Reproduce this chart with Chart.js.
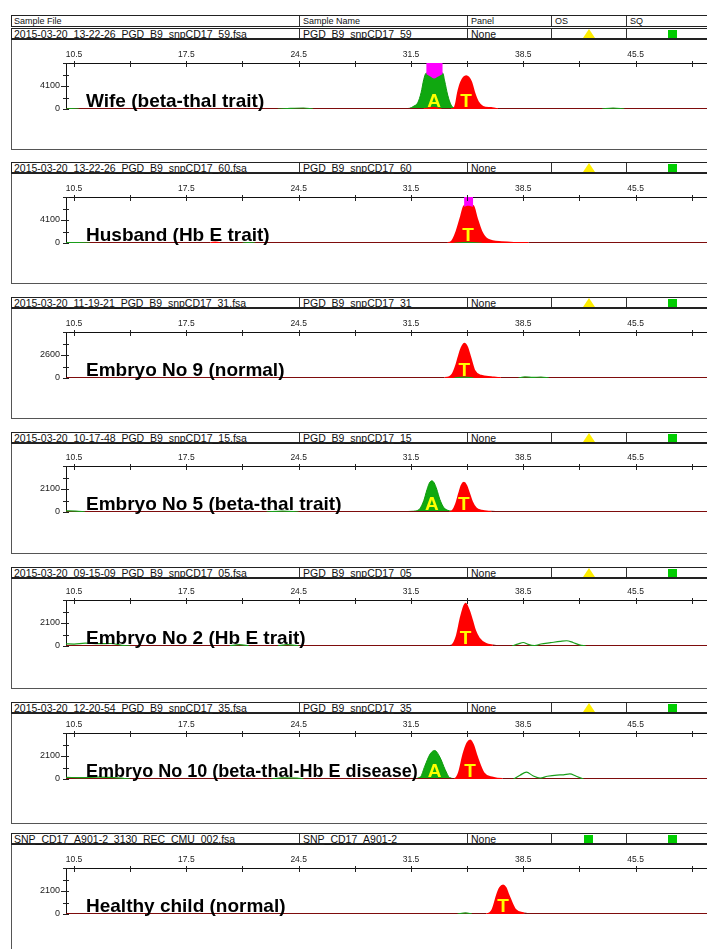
<!DOCTYPE html>
<html>
<head>
<meta charset="utf-8">
<title>CD17 SNaPshot</title>
<script src="https://cdn.jsdelivr.net/npm/chart.js@4.4.1/dist/chart.umd.min.js"></script>
<style>
  html, body { margin: 0; padding: 0; background: #fff; }
  body { position: relative; width: 707px; height: 949px; overflow: hidden; font-family: "Liberation Sans", Arial, sans-serif; color: #111; }
  .row { position: absolute; left: 11px; width: 760px; height: 12px; box-sizing: border-box; border: 1px solid #222; }
  .row.data { border-bottom-width: 2px; }
  .cell { position: absolute; top: 0; bottom: 0; padding-left: 3px; white-space: nowrap; }
  .cell.sep { border-left: 1px solid #333; }
  .head .cell { font-size: 9px; line-height: 11px; }
  .data .cell { font-size: 10.5px; line-height: 10px; }
  .box { position: absolute; left: 11px; width: 760px; height: 110px; box-sizing: border-box; border: 1px solid #555; border-top: none; }
  canvas { position: absolute; left: 12px; }
  .tri { position: absolute; top: 0; width: 12px; height: 9px; background: #ffee00; clip-path: polygon(50% 0, 100% 100%, 0 100%); }
  .sq { position: absolute; top: 1px; width: 9px; height: 8px; background: #00cc00; }
</style>
</head>
<body>
<script>
// ---- data ----
const headers = ['Sample File', 'Sample Name', 'Panel', 'OS', 'SQ'];
const sampleFiles = [
  '2015-03-20_13-22-26_PGD_B9_snpCD17_59.fsa',
  '2015-03-20_13-22-26_PGD_B9_snpCD17_60.fsa',
  '2015-03-20_11-19-21_PGD_B9_snpCD17_31.fsa',
  '2015-03-20_10-17-48_PGD_B9_snpCD17_15.fsa',
  '2015-03-20_09-15-09_PGD_B9_snpCD17_05.fsa',
  '2015-03-20_12-20-54_PGD_B9_snpCD17_35.fsa',
  'SNP_CD17_A901-2_3130_REC_CMU_002.fsa'
];
const sampleNames = ['PGD_B9_snpCD17_59', 'PGD_B9_snpCD17_60', 'PGD_B9_snpCD17_31', 'PGD_B9_snpCD17_15',
  'PGD_B9_snpCD17_05', 'PGD_B9_snpCD17_35', 'SNP_CD17_A901-2'];
const panelCol = ['None', 'None', 'None', 'None', 'None', 'None', 'None'];
const osFlag = ['tri', 'tri', 'tri', 'tri', 'tri', 'tri', 'sq'];
const sqFlag = ['sq', 'sq', 'sq', 'sq', 'sq', 'sq', 'sq'];

const panelNames = ['Wife (beta-thal trait)', 'Husband (Hb E trait)', 'Embryo No 9 (normal)',
  'Embryo No 5 (beta-thal trait)', 'Embryo No 2 (Hb E trait)', 'Embryo No 10 (beta-thal-Hb E disease)',
  'Healthy child (normal)'];

const xMajor = [10.5, 17.5, 24.5, 31.5, 38.5, 45.5];
const xMinor = [14, 21, 28, 35, 42, 49];
const yTickLabel = [4100, 4100, 2600, 2100, 2100, 2100, 2100];

const callBase = [['A', 'T'], ['T'], ['T'], ['A', 'T'], ['T'], ['A', 'T'], ['T']];
const callSize = [[32.94, 34.94], [35.05], [34.83], [32.8, 34.8], [34.9], [32.98, 35.18], [37.24]];

// red (T) channel, whole trace
const redTrace = [
  [[10, 0], [32.3, 0], [32.9, 250], [33.4, 0], [34.0, 0], [34.2, 150], [34.31, 1010], [34.42, 2780], [34.63, 4835],
   [34.94, 5845], [35.25, 4835], [35.46, 2780], [35.67, 1300], [35.98, 410], [36.5, 180], [36.92, 0], [50, 0]],
  [[10, 0], [19.0, 0], [19.3, 120], [19.6, 0], [33.8, 0], [34.05, 290], [34.34, 2090], [34.62, 4780], [34.81, 6580],
   [35.05, 6800], [35.38, 6580], [35.6, 4500], [35.89, 2090], [36.3, 600], [37.16, 150], [38.84, 0], [50, 0]],
  [[10, 0], [33.6, 0], [33.9, 100], [34.1, 455], [34.31, 1400], [34.46, 2350], [34.65, 3400], [34.83, 3880],
   [35.0, 3500], [35.2, 2350], [35.46, 830], [35.87, 260], [36.5, 100], [37.1, 0], [50, 0]],
  [[10, 0], [33.9, 0], [34.1, 120], [34.3, 700], [34.5, 1700], [34.65, 2400], [34.8, 2670], [34.95, 2400],
   [35.1, 1800], [35.3, 950], [35.55, 350], [35.9, 120], [36.5, 30], [37, 0], [50, 0]],
  [[10, 0], [33.8, 0], [34.05, 60], [34.34, 860], [34.62, 2690], [34.9, 3870], [35.1, 3300], [35.3, 2400],
   [35.5, 1400], [35.74, 710], [36.17, 190], [36.6, 50], [37, 0], [50, 0]],
  [[10, 0], [34.2, 0], [34.48, 550], [34.76, 2240], [35.0, 3250], [35.18, 3530], [35.38, 3100], [35.6, 2090],
   [36.03, 550], [36.6, 120], [37.2, 0], [50, 0]],
  [[10, 0], [36.2, 0], [36.58, 400], [36.87, 1780], [37.05, 2400], [37.24, 2620], [37.4, 2400], [37.57, 1780],
   [38.0, 400], [38.56, 60], [39.0, 0], [50, 0]]
];

// green (A) channel, called peaks only (filled)
const greenPeak = [
  [[30.4, 0], [30.7, 90], [31.1, 60], [31.4, 120], [31.69, 530], [31.92, 1100], [32.13, 2900], [32.3, 5300],
   [32.45, 6400], [32.7, 5950], [32.94, 5600], [33.2, 5950], [33.48, 6400], [33.6, 5000], [33.79, 2480],
   [34.0, 700], [34.19, 230], [34.6, 80], [35.2, 0]],
  null,
  null,
  [[30.8, 0], [31.5, 60], [31.8, 100], [32.05, 300], [32.3, 1050], [32.5, 2050], [32.65, 2650], [32.8, 2850],
   [32.95, 2650], [33.1, 2100], [33.3, 1150], [33.55, 400], [33.8, 150], [34.2, 60], [34.8, 40], [35.5, 0]],
  null,
  [[31.5, 0], [32.08, 180], [32.36, 1170], [32.7, 2300], [32.98, 2606], [33.3, 2000], [33.63, 860], [33.91, 130],
   [34.3, 30], [34.8, 0]],
  null
];

// green channel, small uncalled bumps (line only)
const greenNoise = [
  [[[10, 0], [10.3, 60], [10.8, 0]], [[23.2, 0], [24.0, 120], [24.8, 180], [25.4, 0]], [[43.4, 0], [44.1, 150], [44.8, 0]]],
  [[[10, 80], [10.8, 60], [11.5, 0]], [[21, 0], [21.4, 80], [21.8, 0]], [[34.2, 0], [35.0, 120], [35.9, 0]]],
  [[[34.2, 0], [34.8, 90], [35.4, 0]], [[38.2, 0], [38.6, 130], [39.1, 60], [39.6, 110], [40.1, 0]]],
  [[[10, 100], [10.6, 80], [11.2, 0]], [[22.5, 0], [23.5, 80], [24.5, 0]]],
  [[[10, 200], [10.5, 180], [11.2, 260], [12.0, 220], [12.8, 230], [13.5, 60], [14, 0]], [[20.2, 0], [20.8, 120], [21.4, 0]],
   [[23.2, 0], [23.8, 130], [24.5, 0]], [[37.8, 0], [38.2, 200], [38.5, 320], [38.8, 150], [39.2, 40], [39.6, 180],
   [40.2, 300], [40.8, 420], [41.2, 480], [41.6, 320], [42.0, 100], [42.4, 0]]],
  [[[10, 150], [11, 120], [12, 170], [13, 130], [14, 0]], [[22.8, 0], [23.5, 100], [24.4, 80], [24.8, 0]],
   [[37.9, 0], [38.3, 350], [38.7, 620], [39.1, 300], [39.55, 90], [40.0, 250], [40.6, 360], [41.0, 380],
   [41.4, 470], [41.8, 250], [42.25, 0]]],
  [[[34.4, 0], [34.9, 110], [35.3, 0]]]
];

// off-scale (saturated) marker, filled up to the top of the plot
const satTop = [
  [[32.45, 6250], [32.7, 5800], [32.94, 5450], [33.2, 5800], [33.48, 6250]],
  [[34.81, 6450], [35.05, 6650], [35.38, 6450]],
  null, null, null, null, null
];

// ---- layout ----
const rowTop = [28, 162, 297, 432, 567, 702, 833];
const zeroY = [109, 243, 378, 512, 646, 779, 914];
const colLeft = [11, 299, 467, 551, 626];
const FONT = '"Liberation Sans", Arial, sans-serif';

Chart.defaults.font.family = FONT;

function makeRow(top, texts, cls, icons) {
  const row = document.createElement('div');
  row.className = 'row ' + cls;
  row.style.top = top + 'px';
  texts.forEach((t, k) => {
    const cell = document.createElement('div');
    cell.className = 'cell' + (k > 0 ? ' sep' : '');
    cell.style.left = (colLeft[k] - 12) + 'px';
    cell.textContent = t;
    row.appendChild(cell);
  });
  (icons || []).forEach(ic => {
    const d = document.createElement('div');
    d.className = ic.kind;
    d.style.left = ic.left + 'px';
    row.appendChild(d);
  });
  document.body.appendChild(row);
}

makeRow(15, headers, 'head');

const axisMarks = {
  id: 'axisMarks',
  afterDatasetsDraw(chart, args, opts) {
    const {ctx, chartArea: a, scales: {x, y}} = chart;
    const i = opts.panel;
    const base = y.getPixelForValue(0);
    ctx.save();
    ctx.strokeStyle = '#222';
    ctx.lineWidth = 1;
    x.ticks.forEach(t => {
      const p = Math.round(x.getPixelForValue(t.value)) + 0.5;
      ctx.beginPath(); ctx.moveTo(p, a.top - 2); ctx.lineTo(p, a.top + 4); ctx.stroke();
    });
    y.ticks.forEach(t => {
      const p = Math.round(y.getPixelForValue(t.value)) + 0.5;
      const w = t.value === yTickLabel[i] ? 5 : 3;
      ctx.beginPath(); ctx.moveTo(a.left - w, p); ctx.lineTo(a.left + 3, p); ctx.stroke();
    });
    // sample label; kept clear of the first called peak
    const start = a.left + 20;
    const room = x.getPixelForValue(callSize[i][0]) - 17 - start;
    ctx.font = 'bold 19px ' + FONT;
    ctx.textBaseline = 'alphabetic';
    ctx.textAlign = 'left';
    ctx.fillStyle = '#000';
    ctx.fillText(panelNames[i], start, base - 2, room);
    ctx.textAlign = 'center';
    ctx.fillStyle = '#ffff00';
    callBase[i].forEach((b, k) => ctx.fillText(b, x.getPixelForValue(callSize[i][k]), base - 2));
    ctx.restore();
  }
};

function joinBumps(bumps) {
  const out = [];
  bumps.forEach((b, k) => {
    if (k > 0) out.push([b[0][0] - 0.01, null]);
    b.forEach(p => out.push(p));
  });
  return out;
}

for (let i = 0; i < 7; i++) {
  makeRow(rowTop[i], [sampleFiles[i], sampleNames[i], panelCol[i], '', ''], 'data', [
    {kind: osFlag[i], left: osFlag[i] === 'tri' ? 571 : 572},
    {kind: sqFlag[i], left: 656}
  ]);

  const box = document.createElement('div');
  box.className = 'box';
  box.style.top = (rowTop[i] + 12) + 'px';
  document.body.appendChild(box);

  const cv = document.createElement('canvas');
  cv.width = 695; cv.height = 109;
  cv.style.width = '695px'; cv.style.height = '109px';
  cv.style.top = (rowTop[i] + 12) + 'px';
  document.body.appendChild(cv);

  const plotTop = zeroY[i] - 46 - (rowTop[i] + 12);
  const padBottom = 109 - (zeroY[i] - rowTop[i] - 12);
  const q = yTickLabel[i] / 2;

  const datasets = [];
  if (satTop[i]) {
    datasets.push({data: satTop[i], fill: 'end', backgroundColor: '#ff00ff', borderColor: '#ff00ff',
      borderWidth: 0, order: 0});
  }
  datasets.push({data: joinBumps(greenNoise[i]), fill: false, borderColor: '#1a9e1a', borderWidth: 1.2,
    spanGaps: false, order: 1});
  datasets.push({data: redTrace[i], fill: 'origin', backgroundColor: '#ff0000', borderWidth: 1.8, order: 2,
    segment: {borderColor: c => (c.p0.parsed.y < 80 && c.p1.parsed.y < 80) ? '#7e0c0c' : '#ff0000'}});
  if (greenPeak[i]) {
    datasets.push({data: greenPeak[i], fill: 'origin', backgroundColor: '#10a810', borderColor: '#0c9a0c',
      borderWidth: 1, order: 3});
  }

  new Chart(cv, {
    type: 'line',
    data: {datasets},
    plugins: [axisMarks],
    options: {
      responsive: false,
      animation: false,
      devicePixelRatio: 1,
      layout: {autoPadding: false, padding: {top: 0, left: 0, right: 0, bottom: padBottom}},
      elements: {point: {radius: 0}, line: {cubicInterpolationMode: 'monotone'}},
      plugins: {legend: {display: false}, tooltip: {enabled: false}, axisMarks: {panel: i}},
      scales: {
        x: {
          type: 'linear', position: 'top', min: 10, max: 49.95,
          grid: {display: false, drawTicks: false},
          border: {display: true, color: '#111', width: 1},
          afterBuildTicks: s => { s.ticks = xMajor.concat(xMinor).sort((a, b) => a - b).map(v => ({value: v})); },
          afterFit: s => { s.height = plotTop; },
          ticks: {autoSkip: false, maxRotation: 0, padding: 3, color: '#222', font: {size: 8.5},
            callback: v => xMajor.includes(v) ? v.toFixed(1) : ''}
        },
        y: {
          type: 'linear', min: 0, max: yTickLabel[i] * 2,
          grid: {display: false, drawTicks: false},
          border: {display: true, color: '#111', width: 1},
          afterBuildTicks: s => { s.ticks = [0, q, 2 * q, 3 * q, 4 * q].map(v => ({value: v})); },
          afterFit: s => { s.width = 54; },
          ticks: {autoSkip: false, padding: 6, color: '#222', font: {size: 9},
            callback: v => (v === 0 || v === yTickLabel[i]) ? String(v) : ''}
        }
      }
    }
  });
}
</script>
</body>
</html>
